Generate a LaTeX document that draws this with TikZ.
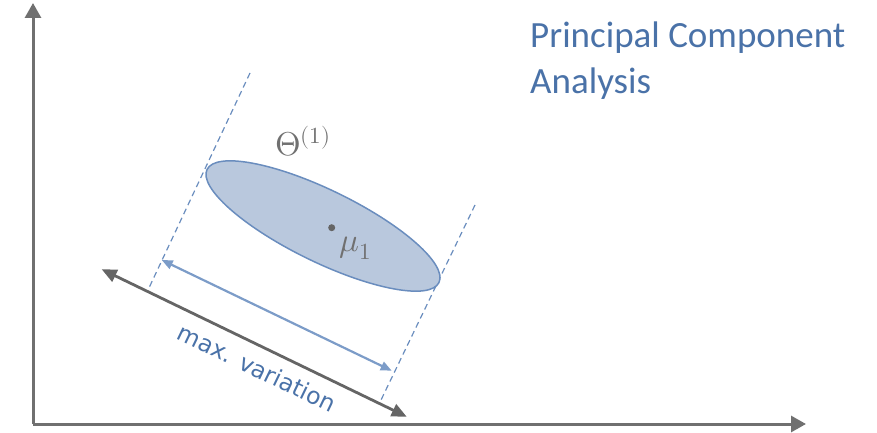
\documentclass[tikz,border=0pt]{standalone}
\usepackage{fontspec}
\usepackage{unicode-math}
\setmainfont{Carlito}
\setmathfont{Latin Modern Math}
\newfontfamily\dejavu{DejaVu Sans}
\usetikzlibrary{arrows.meta,shapes.geometric}
\definecolor{axisgray}{HTML}{707070}
\definecolor{darkgray}{HTML}{656565}
\definecolor{ellfill}{HTML}{B9C8DD}
\definecolor{elldraw}{HTML}{6A8DBE}
\definecolor{arrowblue}{HTML}{7C9CC8}
\definecolor{titleblue}{HTML}{4A72A8}
\tikzset{
  axisline/.style={line width=3pt, draw=axisgray, -{Triangle[length=15pt,width=16pt]}},
  graydbl/.style={line width=2.8pt, draw=darkgray, {Triangle[length=15pt,width=13pt]}-{Triangle[length=15pt,width=13pt]}},
  bluedbl/.style={line width=2.2pt, draw=arrowblue, {Triangle[length=11pt,width=9pt]}-{Triangle[length=11pt,width=9pt]}},
  dashline/.style={line width=1.2pt, draw=elldraw, dash pattern=on 6pt off 4pt},
  ellshape/.style={ellipse, draw=elldraw, fill=ellfill, line width=1.5pt, minimum width=258pt, minimum height=72pt, inner sep=0pt},
  mathlabel/.style={text=axisgray, font=\fontsize{33}{38}\selectfont, inner sep=0pt},
  titletext/.style={text=titleblue, font=\fontsize{37}{45}\selectfont, anchor=base west, inner sep=0pt},
}
\begin{document}
\begin{tikzpicture}[x=1pt,y=-1pt]
\useasboundingbox (0,0) rectangle (877,433);
% axes
\coordinate (O) at (33,424);
\coordinate (Ytip) at (33,3);
\coordinate (Xtip) at (806,424);
\draw[axisline] (O) -- (Ytip);
\draw[axisline] (O) -- (Xtip);
% dashed lines
\coordinate (dl1) at (250,73);
\coordinate (dl2) at (148,290);
\coordinate (dr1) at (475,205);
\coordinate (dr2) at (381,400);
\draw[dashline] (dl1) -- (dl2);
\draw[dashline] (dr1) -- (dr2);
% ellipse
\node[ellshape, rotate=-26] (ell) at (323,226) {};
% mean
\node[circle, fill=darkgray, inner sep=0pt, minimum size=7pt] (mu) at (331.7,227.7) {};
\node[mathlabel, anchor=base west] (mulab) at (339,251) {$\mu_1$};
\node[mathlabel, anchor=base west] (theta) at (275,155) {$\Theta^{(1)}$};
% arrows
\coordinate (b1) at (161.7,260);
\coordinate (b2) at (391.7,370.7);
\draw[bluedbl] (b1) -- (b2);
\coordinate (g1) at (101.7,269.3);
\coordinate (g2) at (406.7,416.7);
\draw[graydbl] (g1) -- (g2);
\node[text=titleblue, font=\dejavu\fontsize{23.5}{28}\selectfont, rotate=-25.7, inner sep=0pt] (mv) at (257,368) {max. variation};
% title
\node[titletext] (title1) at (530,47.7) {Principal Component};
\node[titletext] (title2) at (530,93.3) {Analysis};
\end{tikzpicture}
\end{document}
